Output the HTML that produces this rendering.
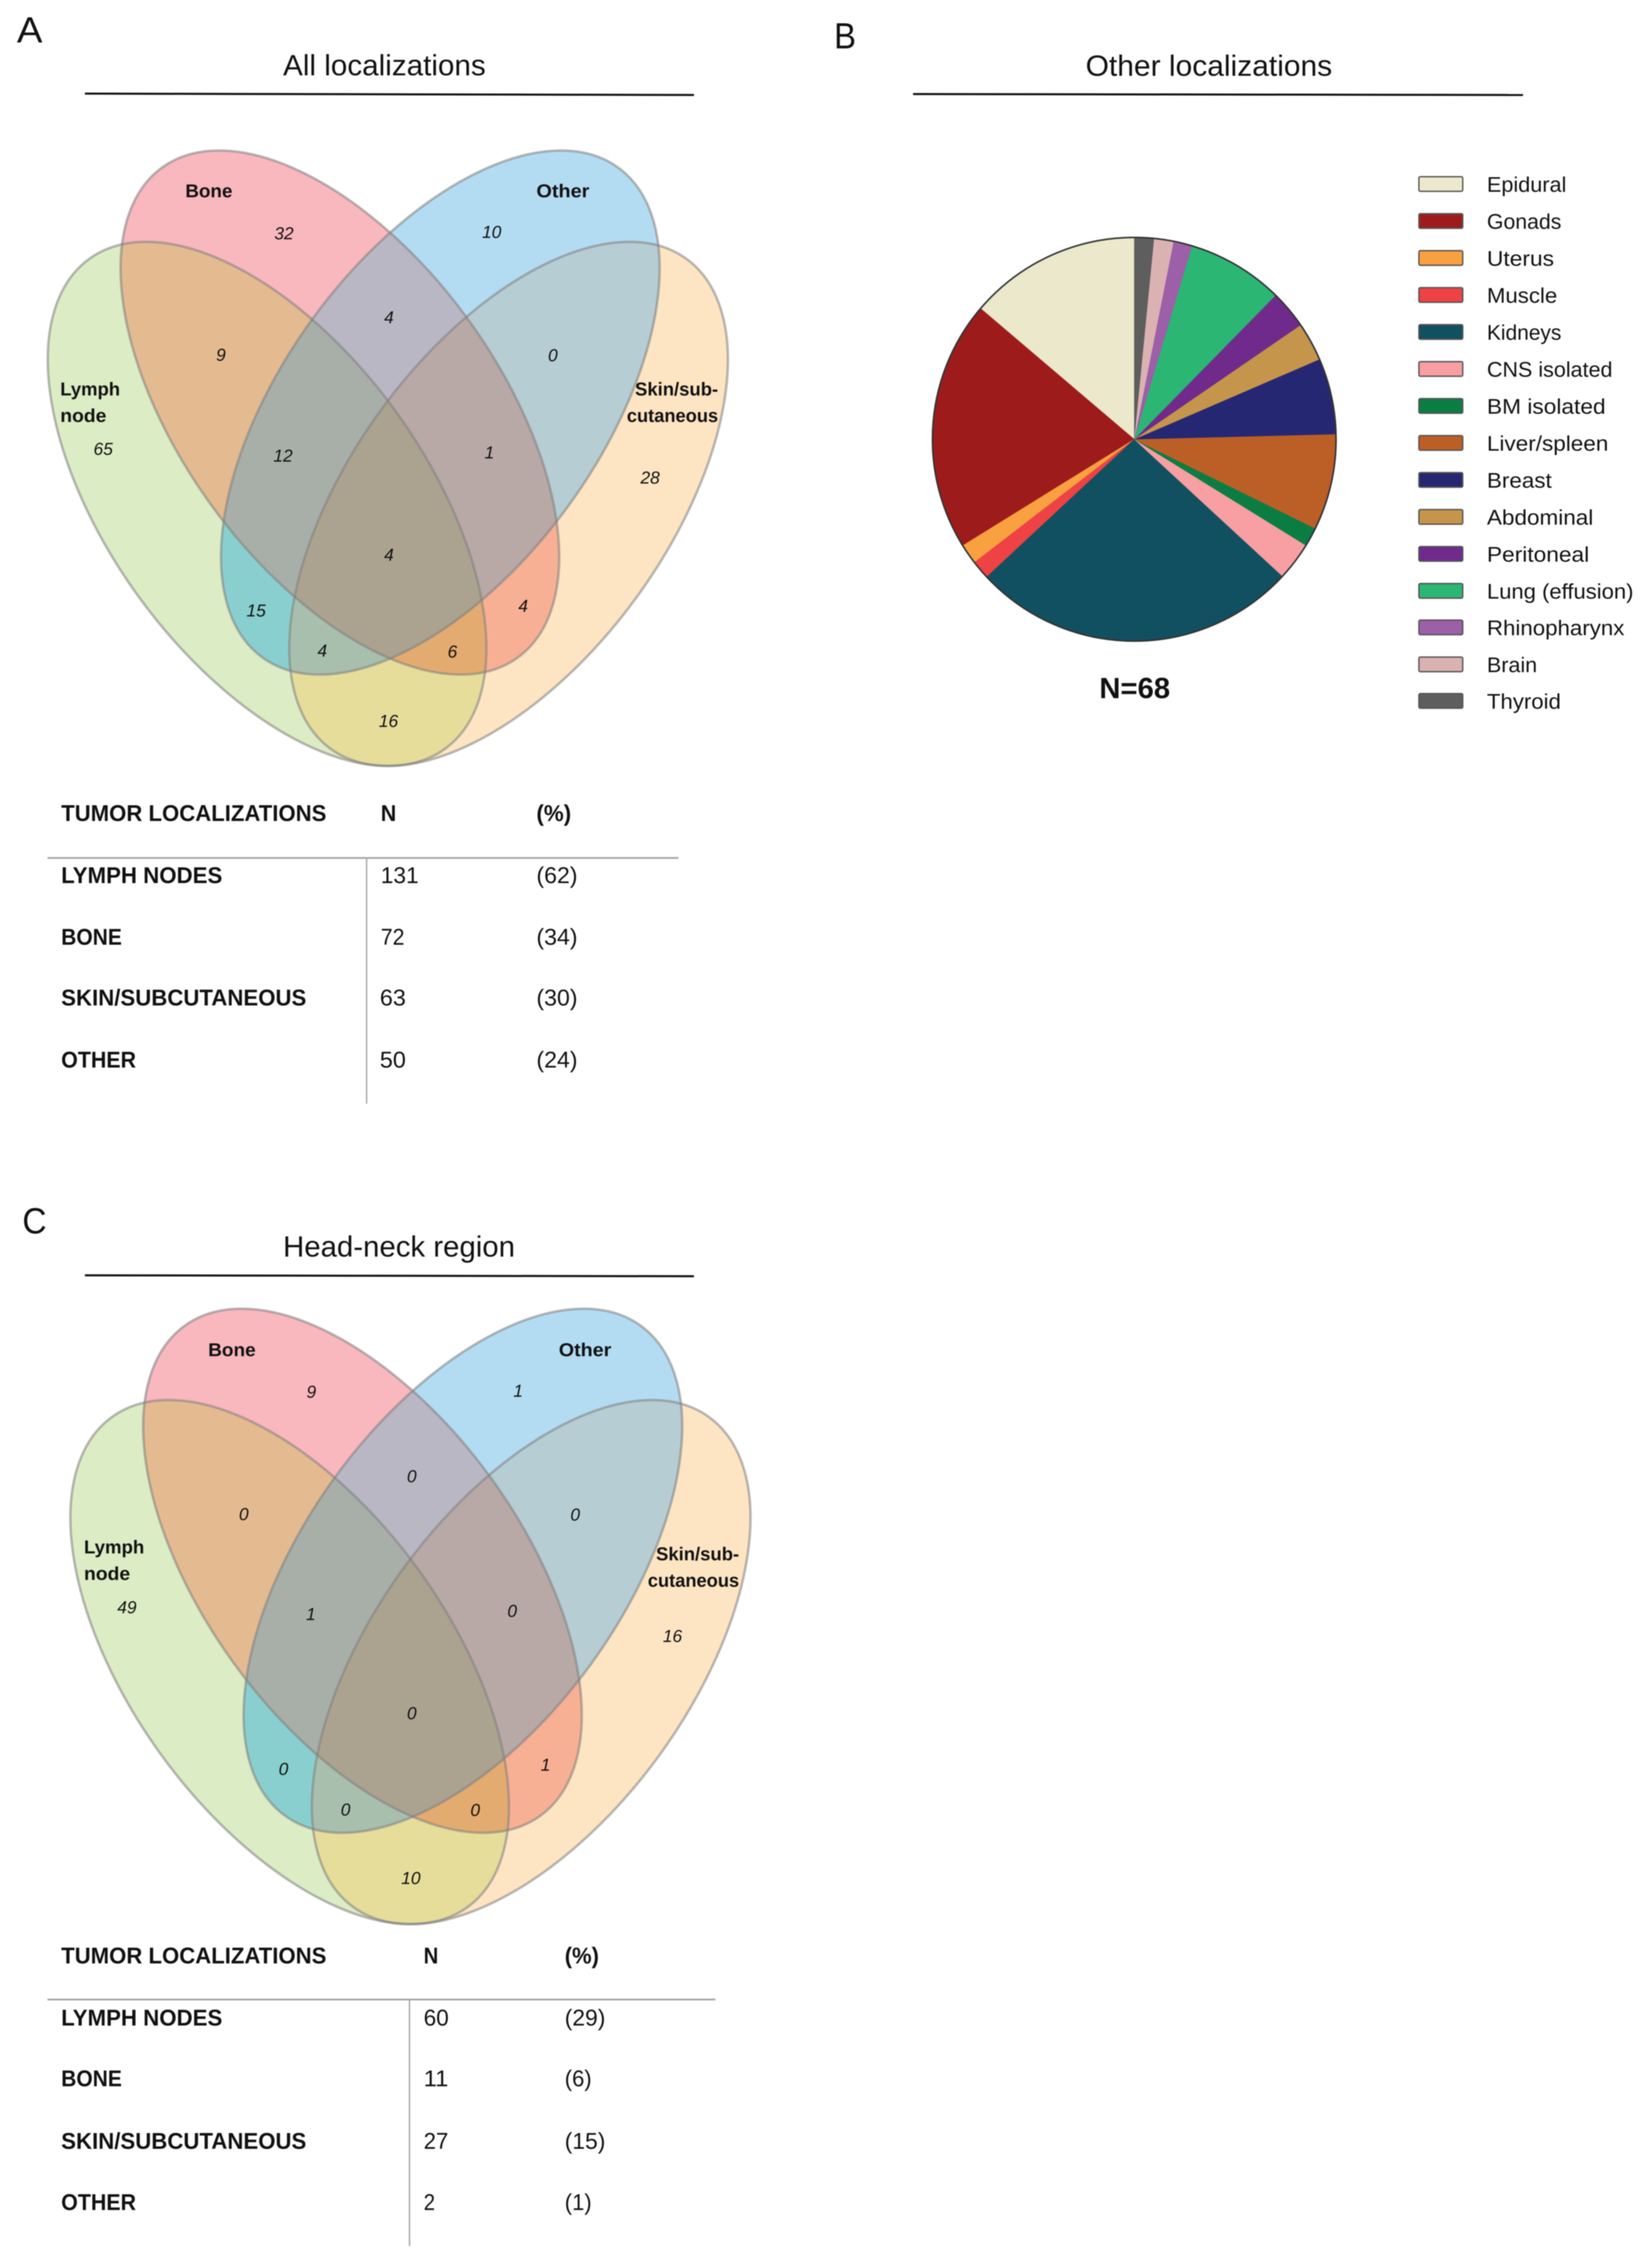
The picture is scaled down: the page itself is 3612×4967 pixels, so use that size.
<!DOCTYPE html>
<html lang="en">
<head>
<meta charset="utf-8">
<title>Tumor localizations</title>
<style>
html,body{margin:0;padding:0;background:#fff;}
svg{display:block;filter:blur(1.1px);}
text{font-family:"Liberation Sans",sans-serif;fill:#111;}
.panel{font-size:80px;}
.title{font-size:64px;}
.lab{font-size:41px;font-weight:bold;}
.num{font-size:38px;font-style:italic;text-anchor:middle;}
.th{font-size:50px;font-weight:bold;}
.td{font-size:50px;}
.leg{font-size:46px;}
.rule{stroke:#111;stroke-width:4.5;}
.tline{stroke:#a6a6a6;stroke-width:4;}
.vline{stroke:#a6a6a6;stroke-width:3;}
.sw{stroke:#555;stroke-width:3;}
</style>
</head>
<body>
<svg xmlns="http://www.w3.org/2000/svg" width="3612" height="4967" viewBox="0 0 3612 4967">
<defs id="venn-defs"></defs>
<rect width="3612" height="4967" fill="#fff"/>

<!-- Panel A -->
<text class="panel" x="37" y="93" textLength="56" lengthAdjust="spacingAndGlyphs">A</text>
<text class="title" x="620" y="165" textLength="444" lengthAdjust="spacingAndGlyphs">All localizations</text>
<line class="rule" x1="186" y1="205" x2="1520" y2="208"/>
<g id="venn-a"></g>
<g>
<text class="lab" x="406" y="432" textLength="103" lengthAdjust="spacingAndGlyphs">Bone</text>
<text class="lab" x="1175" y="432" textLength="116" lengthAdjust="spacingAndGlyphs">Other</text>
<text class="lab" x="132" y="866" textLength="131" lengthAdjust="spacingAndGlyphs">Lymph</text>
<text class="lab" x="132" y="924" textLength="101" lengthAdjust="spacingAndGlyphs">node</text>
<text class="lab" x="1391" y="866" textLength="182" lengthAdjust="spacingAndGlyphs">Skin/sub-</text>
<text class="lab" x="1373" y="924" textLength="200" lengthAdjust="spacingAndGlyphs">cutaneous</text>
</g>
<g>
<text class="num" x="622" y="524">32</text>
<text class="num" x="1077" y="521">10</text>
<text class="num" x="226" y="996">65</text>
<text class="num" x="1424" y="1059">28</text>
<text class="num" x="484" y="790">9</text>
<text class="num" x="852" y="708">4</text>
<text class="num" x="1211" y="791">0</text>
<text class="num" x="620" y="1011">12</text>
<text class="num" x="1072" y="1004">1</text>
<text class="num" x="852" y="1228">4</text>
<text class="num" x="561" y="1350">15</text>
<text class="num" x="706" y="1438">4</text>
<text class="num" x="991" y="1440">6</text>
<text class="num" x="1146" y="1340">4</text>
<text class="num" x="851" y="1592">16</text>
</g>
<g>
<text class="th" x="134" y="1798" textLength="581" lengthAdjust="spacingAndGlyphs">TUMOR LOCALIZATIONS</text>
<text class="th" x="834" y="1798" textLength="34" lengthAdjust="spacingAndGlyphs">N</text>
<text class="th" x="1175" y="1798" textLength="76" lengthAdjust="spacingAndGlyphs">(%)</text>
<line class="tline" x1="104" y1="1879" x2="1486" y2="1879"/>
<line class="vline" x1="803" y1="1879" x2="803" y2="2417"/>
<text class="th" x="134" y="1934" textLength="353" lengthAdjust="spacingAndGlyphs">LYMPH NODES</text>
<text class="td" x="834" y="1934" textLength="83" lengthAdjust="spacingAndGlyphs">131</text>
<text class="td" x="1175" y="1934" textLength="90" lengthAdjust="spacingAndGlyphs">(62)</text>
<text class="th" x="134" y="2069" textLength="133" lengthAdjust="spacingAndGlyphs">BONE</text>
<text class="td" x="834" y="2069" textLength="52" lengthAdjust="spacingAndGlyphs">72</text>
<text class="td" x="1175" y="2069" textLength="90" lengthAdjust="spacingAndGlyphs">(34)</text>
<text class="th" x="134" y="2202" textLength="537" lengthAdjust="spacingAndGlyphs">SKIN/SUBCUTANEOUS</text>
<text class="td" x="832" y="2202" textLength="57" lengthAdjust="spacingAndGlyphs">63</text>
<text class="td" x="1175" y="2202" textLength="90" lengthAdjust="spacingAndGlyphs">(30)</text>
<text class="th" x="134" y="2338" textLength="164" lengthAdjust="spacingAndGlyphs">OTHER</text>
<text class="td" x="832" y="2338" textLength="57" lengthAdjust="spacingAndGlyphs">50</text>
<text class="td" x="1175" y="2338" textLength="90" lengthAdjust="spacingAndGlyphs">(24)</text>
</g>

<!-- Panel B -->
<text class="panel" x="1827" y="106" textLength="48" lengthAdjust="spacingAndGlyphs">B</text>
<text class="title" x="2378" y="166" textLength="540" lengthAdjust="spacingAndGlyphs">Other localizations</text>
<line class="rule" x1="2000" y1="206" x2="3336" y2="208"/>
<g id="pie"></g>
<text x="2408" y="1529" font-size="64" font-weight="bold" textLength="155" lengthAdjust="spacingAndGlyphs">N=68</text>
<g>
<rect class="sw" x="3108" y="387" width="96" height="32" rx="3" fill="#ECE8CB"/>
<text class="leg" x="3257" y="420" textLength="174" lengthAdjust="spacingAndGlyphs">Epidural</text>
<rect class="sw" x="3108" y="468" width="96" height="32" rx="3" fill="#9E1B1C"/>
<text class="leg" x="3257" y="501" textLength="163" lengthAdjust="spacingAndGlyphs">Gonads</text>
<rect class="sw" x="3108" y="549" width="96" height="32" rx="3" fill="#F9A040"/>
<text class="leg" x="3257" y="582" textLength="147" lengthAdjust="spacingAndGlyphs">Uterus</text>
<rect class="sw" x="3108" y="630" width="96" height="32" rx="3" fill="#EE4245"/>
<text class="leg" x="3257" y="663" textLength="154" lengthAdjust="spacingAndGlyphs">Muscle</text>
<rect class="sw" x="3108" y="711" width="96" height="32" rx="3" fill="#115060"/>
<text class="leg" x="3257" y="744" textLength="163" lengthAdjust="spacingAndGlyphs">Kidneys</text>
<rect class="sw" x="3108" y="792" width="96" height="32" rx="3" fill="#F79FA3"/>
<text class="leg" x="3257" y="825" textLength="275" lengthAdjust="spacingAndGlyphs">CNS isolated</text>
<rect class="sw" x="3108" y="873" width="96" height="32" rx="3" fill="#0C7D42"/>
<text class="leg" x="3257" y="906" textLength="260" lengthAdjust="spacingAndGlyphs">BM isolated</text>
<rect class="sw" x="3108" y="954" width="96" height="32" rx="3" fill="#BC5F26"/>
<text class="leg" x="3257" y="987" textLength="266" lengthAdjust="spacingAndGlyphs">Liver/spleen</text>
<rect class="sw" x="3108" y="1035" width="96" height="32" rx="3" fill="#262772"/>
<text class="leg" x="3257" y="1068" textLength="142" lengthAdjust="spacingAndGlyphs">Breast</text>
<rect class="sw" x="3108" y="1116" width="96" height="32" rx="3" fill="#C6954C"/>
<text class="leg" x="3257" y="1149" textLength="233" lengthAdjust="spacingAndGlyphs">Abdominal</text>
<rect class="sw" x="3108" y="1197" width="96" height="32" rx="3" fill="#702A8C"/>
<text class="leg" x="3257" y="1230" textLength="224" lengthAdjust="spacingAndGlyphs">Peritoneal</text>
<rect class="sw" x="3108" y="1278" width="96" height="32" rx="3" fill="#2BB673"/>
<text class="leg" x="3257" y="1311" textLength="321" lengthAdjust="spacingAndGlyphs">Lung (effusion)</text>
<rect class="sw" x="3108" y="1358" width="96" height="32" rx="3" fill="#9C5FA8"/>
<text class="leg" x="3257" y="1391" textLength="301" lengthAdjust="spacingAndGlyphs">Rhinopharynx</text>
<rect class="sw" x="3108" y="1439" width="96" height="32" rx="3" fill="#DBB2B2"/>
<text class="leg" x="3257" y="1472" textLength="110" lengthAdjust="spacingAndGlyphs">Brain</text>
<rect class="sw" x="3108" y="1519" width="96" height="32" rx="3" fill="#5E5E5E"/>
<text class="leg" x="3257" y="1552" textLength="162" lengthAdjust="spacingAndGlyphs">Thyroid</text>
</g>

<!-- Panel C -->
<text class="panel" x="49" y="2701" textLength="53" lengthAdjust="spacingAndGlyphs">C</text>
<text class="title" x="620" y="2752" textLength="508" lengthAdjust="spacingAndGlyphs">Head-neck region</text>
<line class="rule" x1="186" y1="2793" x2="1520" y2="2795"/>
<g id="venn-c"></g>
<g>
<text class="lab" x="456" y="2970" textLength="104" lengthAdjust="spacingAndGlyphs">Bone</text>
<text class="lab" x="1224" y="2970" textLength="115" lengthAdjust="spacingAndGlyphs">Other</text>
<text class="lab" x="184" y="3402" textLength="132" lengthAdjust="spacingAndGlyphs">Lymph</text>
<text class="lab" x="184" y="3460" textLength="101" lengthAdjust="spacingAndGlyphs">node</text>
<text class="lab" x="1437" y="3417" textLength="182" lengthAdjust="spacingAndGlyphs">Skin/sub-</text>
<text class="lab" x="1419" y="3475" textLength="200" lengthAdjust="spacingAndGlyphs">cutaneous</text>
</g>
<g>
<text class="num" x="682" y="3061">9</text>
<text class="num" x="1135" y="3059">1</text>
<text class="num" x="278" y="3533">49</text>
<text class="num" x="1473" y="3596">16</text>
<text class="num" x="534" y="3329">0</text>
<text class="num" x="902" y="3246">0</text>
<text class="num" x="1260" y="3330">0</text>
<text class="num" x="681" y="3548">1</text>
<text class="num" x="1122" y="3541">0</text>
<text class="num" x="902" y="3765">0</text>
<text class="num" x="621" y="3887">0</text>
<text class="num" x="757" y="3976">0</text>
<text class="num" x="1041" y="3977">0</text>
<text class="num" x="1195" y="3878">1</text>
<text class="num" x="900" y="4126">10</text>
</g>
<g>
<text class="th" x="134" y="4300" textLength="581" lengthAdjust="spacingAndGlyphs">TUMOR LOCALIZATIONS</text>
<text class="th" x="928" y="4300" textLength="32" lengthAdjust="spacingAndGlyphs">N</text>
<text class="th" x="1237" y="4300" textLength="75" lengthAdjust="spacingAndGlyphs">(%)</text>
<line class="tline" x1="104" y1="4379" x2="1567" y2="4379"/>
<line class="vline" x1="897" y1="4379" x2="897" y2="4919"/>
<text class="th" x="134" y="4436" textLength="353" lengthAdjust="spacingAndGlyphs">LYMPH NODES</text>
<text class="td" x="928" y="4436" textLength="55" lengthAdjust="spacingAndGlyphs">60</text>
<text class="td" x="1237" y="4436" textLength="89" lengthAdjust="spacingAndGlyphs">(29)</text>
<text class="th" x="134" y="4569" textLength="133" lengthAdjust="spacingAndGlyphs">BONE</text>
<text class="td" x="928" y="4569" textLength="54" lengthAdjust="spacingAndGlyphs">11</text>
<text class="td" x="1237" y="4569" textLength="59" lengthAdjust="spacingAndGlyphs">(6)</text>
<text class="th" x="134" y="4706" textLength="537" lengthAdjust="spacingAndGlyphs">SKIN/SUBCUTANEOUS</text>
<text class="td" x="928" y="4706" textLength="54" lengthAdjust="spacingAndGlyphs">27</text>
<text class="td" x="1237" y="4706" textLength="89" lengthAdjust="spacingAndGlyphs">(15)</text>
<text class="th" x="134" y="4840" textLength="164" lengthAdjust="spacingAndGlyphs">OTHER</text>
<text class="td" x="928" y="4840" textLength="25" lengthAdjust="spacingAndGlyphs">2</text>
<text class="td" x="1237" y="4840" textLength="59" lengthAdjust="spacingAndGlyphs">(1)</text>
</g>
</svg>

<script>
// Pie data, listed counter-clockwise from 12 o'clock
const pieCategories = ["Epidural","Gonads","Uterus","Muscle","Kidneys","CNS isolated","BM isolated","Liver/spleen","Breast","Abdominal","Peritoneal","Lung (effusion)","Rhinopharynx","Brain","Thyroid"];
const pieValues = [9.37,13.64,1.1,1.02,17.81,2.08,1.04,5.23,4.14,2.1,2.09,5.26,1.02,1.06,1.06];
const pieColors = ["#ECE8CB","#9E1B1C","#F9A040","#EE4245","#115060","#F79FA3","#0C7D42","#BC5F26","#262772","#C6954C","#702A8C","#2BB673","#9C5FA8","#DBB2B2","#5E5E5E"];

const SVGNS = "http://www.w3.org/2000/svg";

function drawPie() {
  const cx = 2484.5, cy = 962, r = 442;
  const host = document.getElementById("pie");
  const total = pieValues.reduce(function (a, b) { return a + b; }, 0);
  const point = function (deg) {
    const t = deg * Math.PI / 180;
    return [cx - r * Math.sin(t), cy - r * Math.cos(t)];
  };
  let acc = 0;
  pieValues.forEach(function (v, i) {
    const sweep = v / total * 360;
    const p0 = point(acc);
    const p1 = point(acc + sweep);
    const large = sweep > 180 ? 1 : 0;
    const slice = document.createElementNS(SVGNS, "path");
    slice.setAttribute("d", "M" + cx + " " + cy + "L" + p0[0] + " " + p0[1] + "A" + r + " " + r + " 0 " + large + " 0 " + p1[0] + " " + p1[1] + "Z");
    slice.setAttribute("fill", pieColors[i]);
    slice.setAttribute("stroke", pieColors[i]);
    slice.setAttribute("stroke-width", "0.6");
    
    
    host.appendChild(slice);
    acc += sweep;
  });
  const rim = document.createElementNS(SVGNS, "circle");
  rim.setAttribute("cx", cx);
  rim.setAttribute("cy", cy);
  rim.setAttribute("r", r);
  rim.setAttribute("fill", "none");
  rim.setAttribute("stroke", "#333");
  rim.setAttribute("stroke-width", "3.5");
  
  
  host.appendChild(rim);
}

// Venn geometry: [centre x, centre y, rotation]
const vennShapes = {
  lymph: [585, 1103.5, 54],
  bone: [744.5, 903.5, 54],
  other: [964.5, 903.5, -54],
  skin: [1114, 1103.5, -54]
};
const vennRegions = [
  [["lymph"], "#DCECC4"],
  [["skin"], "#FDE5C3"],
  [["bone"], "#F9B7BE"],
  [["other"], "#B3DCF2"],
  [["lymph", "bone"], "#E4BA90"],
  [["lymph", "other"], "#8ACFCF"],
  [["lymph", "skin"], "#E6DD9B"],
  [["bone", "other"], "#BAB7C4"],
  [["bone", "skin"], "#F8B094"],
  [["other", "skin"], "#B5CDD3"],
  [["lymph", "bone", "other"], "#A8AFA8"],
  [["lymph", "bone", "skin"], "#E4AB70"],
  [["lymph", "other", "skin"], "#A9BFAE"],
  [["bone", "other", "skin"], "#B8A9A6"],
  [["lymph", "bone", "other", "skin"], "#ABA390"]
];

function makeEllipse(name, ox, oy) {
  const s = vennShapes[name];
  const cx = s[0] + ox, cy = s[1] + oy;
  const e = document.createElementNS(SVGNS, "ellipse");
  e.setAttribute("cx", cx);
  e.setAttribute("cy", cy);
  e.setAttribute("rx", 663);
  e.setAttribute("ry", 347);
  e.setAttribute("transform", "rotate(" + s[2] + " " + cx + " " + cy + ")");
  return e;
}

function drawVenn(hostId, prefix, ox, oy) {
  const host = document.getElementById(hostId);
  const defs = document.getElementById("venn-defs");
  Object.keys(vennShapes).forEach(function (name) {
    const cp = document.createElementNS(SVGNS, "clipPath");
    cp.setAttribute("id", prefix + "-clip-" + name);
    cp.appendChild(makeEllipse(name, ox, oy));
    defs.appendChild(cp);
  });
  vennRegions.forEach(function (region) {
    const names = region[0];
    const shape = makeEllipse(names[0], ox, oy);
    shape.setAttribute("fill", region[1]);
    
    
    let node = shape;
    for (let i = 1; i < names.length; i++) {
      const g = document.createElementNS(SVGNS, "g");
      g.setAttribute("clip-path", "url(#" + prefix + "-clip-" + names[i] + ")");
      g.appendChild(node);
      node = g;
    }
    host.appendChild(node);
  });
  Object.keys(vennShapes).forEach(function (name) {
    const outline = makeEllipse(name, ox, oy);
    outline.setAttribute("fill", "none");
    outline.setAttribute("stroke", "#808080");
    outline.setAttribute("stroke-opacity", "0.55");
    outline.setAttribute("stroke-width", "5.5");
    
    
    host.appendChild(outline);
  });
}

drawPie();
drawVenn("venn-a", "a", 0, 0);
drawVenn("venn-c", "c", 49.5, 2536.5);
</script>
</body>
</html>
